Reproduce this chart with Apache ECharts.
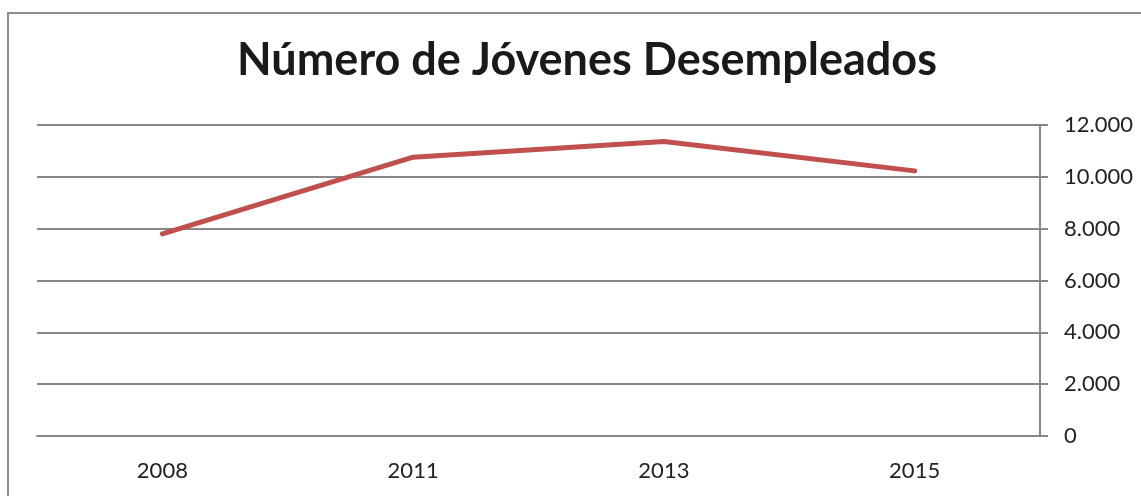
<!DOCTYPE html>
<html lang="es">
<head>
    <meta charset="utf-8">
    <title>Número de Jóvenes Desempleados</title>
    <script src="https://cdn.jsdelivr.net/npm/echarts@6/dist/echarts.min.js"></script>
    <style>
        html, body {
            margin: 0;
            padding: 0;
            background: #fff;
        }

        #frame {
            position: absolute;
            left: 7px;
            top: 12px;
            width: 1200px;
            height: 600px;
            border-left: 2px solid #8c8c8c;
            border-top: 2px solid #8c8c8c;
        }

        #container {
            position: absolute;
            left: 0;
            top: 0;
            width: 1141px;
            height: 496px;
        }
    </style>
</head>
<body>
<div id="frame"></div>
<div id="container"></div>
<script>
    var years = ['2008', '2011', '2013', '2015'];
    var desempleados = [7800, 10760, 11360, 10230];
    var yTicks = [0, 2000, 4000, 6000, 8000, 10000, 12000];

    function fmt(v) {
        // separador de miles con punto
        return String(v).replace(/\B(?=(\d{3})+(?!\d))/g, '.');
    }

    var myChart = echarts.init(document.getElementById('container'));
    var option = {
        animation: false,
        title: {
            text: 'Número de Jóvenes Desempleados',
            left: 582,
            top: 33,
            textAlign: 'center',
            textStyle: {
                fontFamily: 'Lato',
                fontWeight: 'bold',
                fontSize: 45,
                color: '#1a1a1a'
            }
        },
        grid: {
            left: 37,
            right: 101,
            top: 125,
            bottom: 60,
            containLabel: false
        },
        xAxis: {
            type: 'category',
            data: years,
            boundaryGap: true,
            axisLine: {show: true, lineStyle: {color: '#888', width: 2}},
            axisTick: {show: false},
            axisLabel: {
                margin: 24,
                fontFamily: 'Lato',
                fontSize: 22,
                color: '#222'
            },
            splitLine: {show: false}
        },
        yAxis: {
            type: 'value',
            position: 'right',
            min: yTicks[0],
            max: yTicks[yTicks.length - 1],
            interval: 2000,
            axisLine: {show: true, lineStyle: {color: '#888', width: 2}},
            axisTick: {show: true, inside: false, length: 8, lineStyle: {color: '#888', width: 2}},
            axisLabel: {
                margin: 24,
                fontFamily: 'Lato',
                fontSize: 22,
                color: '#222',
                formatter: function (v) {
                    return fmt(v);
                }
            },
            splitLine: {show: true, lineStyle: {color: '#888', width: 2}}
        },
        series: [
            {
                name: 'Desempleados',
                type: 'line',
                data: desempleados,
                symbol: 'none',
                lineStyle: {color: '#C0504D', width: 5, cap: 'round', join: 'round'},
                itemStyle: {color: '#C0504D'}
            }
        ]
    };
    myChart.setOption(option);
</script>
</body>
</html>
